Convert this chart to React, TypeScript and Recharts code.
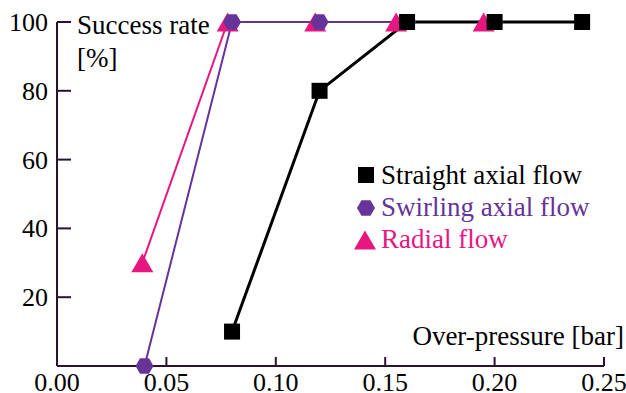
import React from 'react';
import { ComposedChart, Line, XAxis, YAxis, Customized } from 'recharts';

const straightX = [0.08, 0.12, 0.16, 0.2, 0.24];
const straightY = [10, 80, 100, 100, 100];
const swirlX = [0.04, 0.08, 0.12, 0.16, 0.2];
const swirlY = [0, 100, 100, 100, 100];
const radialX = [0.039, 0.078, 0.118, 0.155, 0.195];
const radialY = [30, 100, 100, 100, 100];
const xTicks = [0, 0.05, 0.1, 0.15, 0.2, 0.25];
const yTicks = [20, 40, 60, 80, 100];
const seriesNames = ['Straight axial flow', 'Swirling axial flow', 'Radial flow'];

const BLACK = '#000000';
const PURPLE = '#663399';
const PINK = '#e8177f';
const AXIS = '#2a1230';
const FONT = '"Liberation Serif", "Times New Roman", serif';
const txt = { fontFamily: FONT, fontSize: 27 };
const tickTxt = { fontFamily: FONT, fontSize: 26 };

const toData = (xs: number[], ys: number[]) => xs.map((x, i) => ({ x, y: ys[i] }));
const straightData = toData(straightX, straightY);
const swirlData = toData(swirlX, swirlY);
const radialData = toData(radialX, radialY);

const Square = (cx: number, cy: number, s = 16, fill = BLACK) => (
  <rect x={cx - s / 2} y={cy - s / 2} width={s} height={s} fill={fill} />
);
const Hexagon = (cx: number, cy: number, r = 9, fill = PURPLE) => {
  const pts = [0, 1, 2, 3, 4, 5]
    .map((i) => {
      const a = (Math.PI / 3) * i;
      return `${cx + r * Math.cos(a)},${cy + r * Math.sin(a)}`;
    })
    .join(' ');
  return <polygon points={pts} fill={fill} />;
};
const Triangle = (cx: number, cy: number, w = 22, h = 19, fill = PINK) => (
  <polygon points={`${cx - w / 2},${cy + h / 2} ${cx + w / 2},${cy + h / 2} ${cx},${cy - h / 2}`} fill={fill} />
);

const dotSquare = (p: any) => <g key={`s${p.index}`}>{Square(p.cx, p.cy)}</g>;
const dotHex = (p: any) => <g key={`h${p.index}`}>{Hexagon(p.cx, p.cy)}</g>;
const dotTri = (p: any) => <g key={`t${p.index}`}>{Triangle(p.cx, p.cy)}</g>;

const YTick = (p: any) => {
  const { x, y, payload } = p;
  return (
    <g>
      <line x1={x} y1={y} x2={x + 14} y2={y} stroke={AXIS} strokeWidth={2} />
      <text x={x - 9} y={y + 9} textAnchor="end" style={tickTxt} fill="#000">
        {payload.value}
      </text>
    </g>
  );
};

const XTick = (p: any) => {
  const { x, y, payload } = p;
  return (
    <g>
      {payload.value !== 0 && <line x1={x} y1={y} x2={x} y2={y - 9} stroke={AXIS} strokeWidth={2} />}
      <text x={x} y={y + 25} textAnchor="middle" style={tickTxt} fill="#000">
        {Number(payload.value).toFixed(2)}
      </text>
    </g>
  );
};

const Annotations = () => (
  <g>
    <text x={77} y={34} fill="#000" style={txt}>Success rate</text>
    <text x={77} y={67} fill="#000" style={txt}>[%]</text>
    <text x={624} y={345} textAnchor="end" fill="#000" style={txt}>Over-pressure [bar]</text>
    {Square(366, 175, 16)}
    <text x={381} y={184} fill={BLACK} style={txt}>{seriesNames[0]}</text>
    {Hexagon(366, 208, 9)}
    <text x={381} y={216} fill={PURPLE} style={txt}>{seriesNames[1]}</text>
    {Triangle(365, 240, 22, 19)}
    <text x={381} y={248} fill={PINK} style={txt}>{seriesNames[2]}</text>
  </g>
);

export default function App() {
  return (
    <div style={{ position: 'absolute', left: 0, top: 0 }}>
      <ComposedChart width={626} height={393} margin={{ top: 22, right: 22, bottom: 26, left: 56 }}>
        <XAxis
          type="number"
          dataKey="x"
          domain={[0, 0.25]}
          ticks={xTicks}
          height={1}
          tickSize={0}
          tickMargin={0}
          tickLine={false}
          tick={<XTick />}
          axisLine={{ stroke: AXIS, strokeWidth: 2 }}
        />
        <YAxis
          type="number"
          dataKey="y"
          domain={[0, 100]}
          ticks={yTicks}
          width={1}
          tickSize={0}
          tickMargin={0}
          tickLine={false}
          tick={<YTick />}
          axisLine={{ stroke: AXIS, strokeWidth: 2 }}
        />
        <Line data={radialData} dataKey="y" stroke={PINK} strokeWidth={2} dot={dotTri} isAnimationActive={false} />
        <Line data={swirlData} dataKey="y" stroke={PURPLE} strokeWidth={2} dot={dotHex} isAnimationActive={false} />
        <Line data={straightData} dataKey="y" stroke={BLACK} strokeWidth={3} dot={dotSquare} isAnimationActive={false} />
        <Customized component={Annotations} />
      </ComposedChart>
    </div>
  );
}
